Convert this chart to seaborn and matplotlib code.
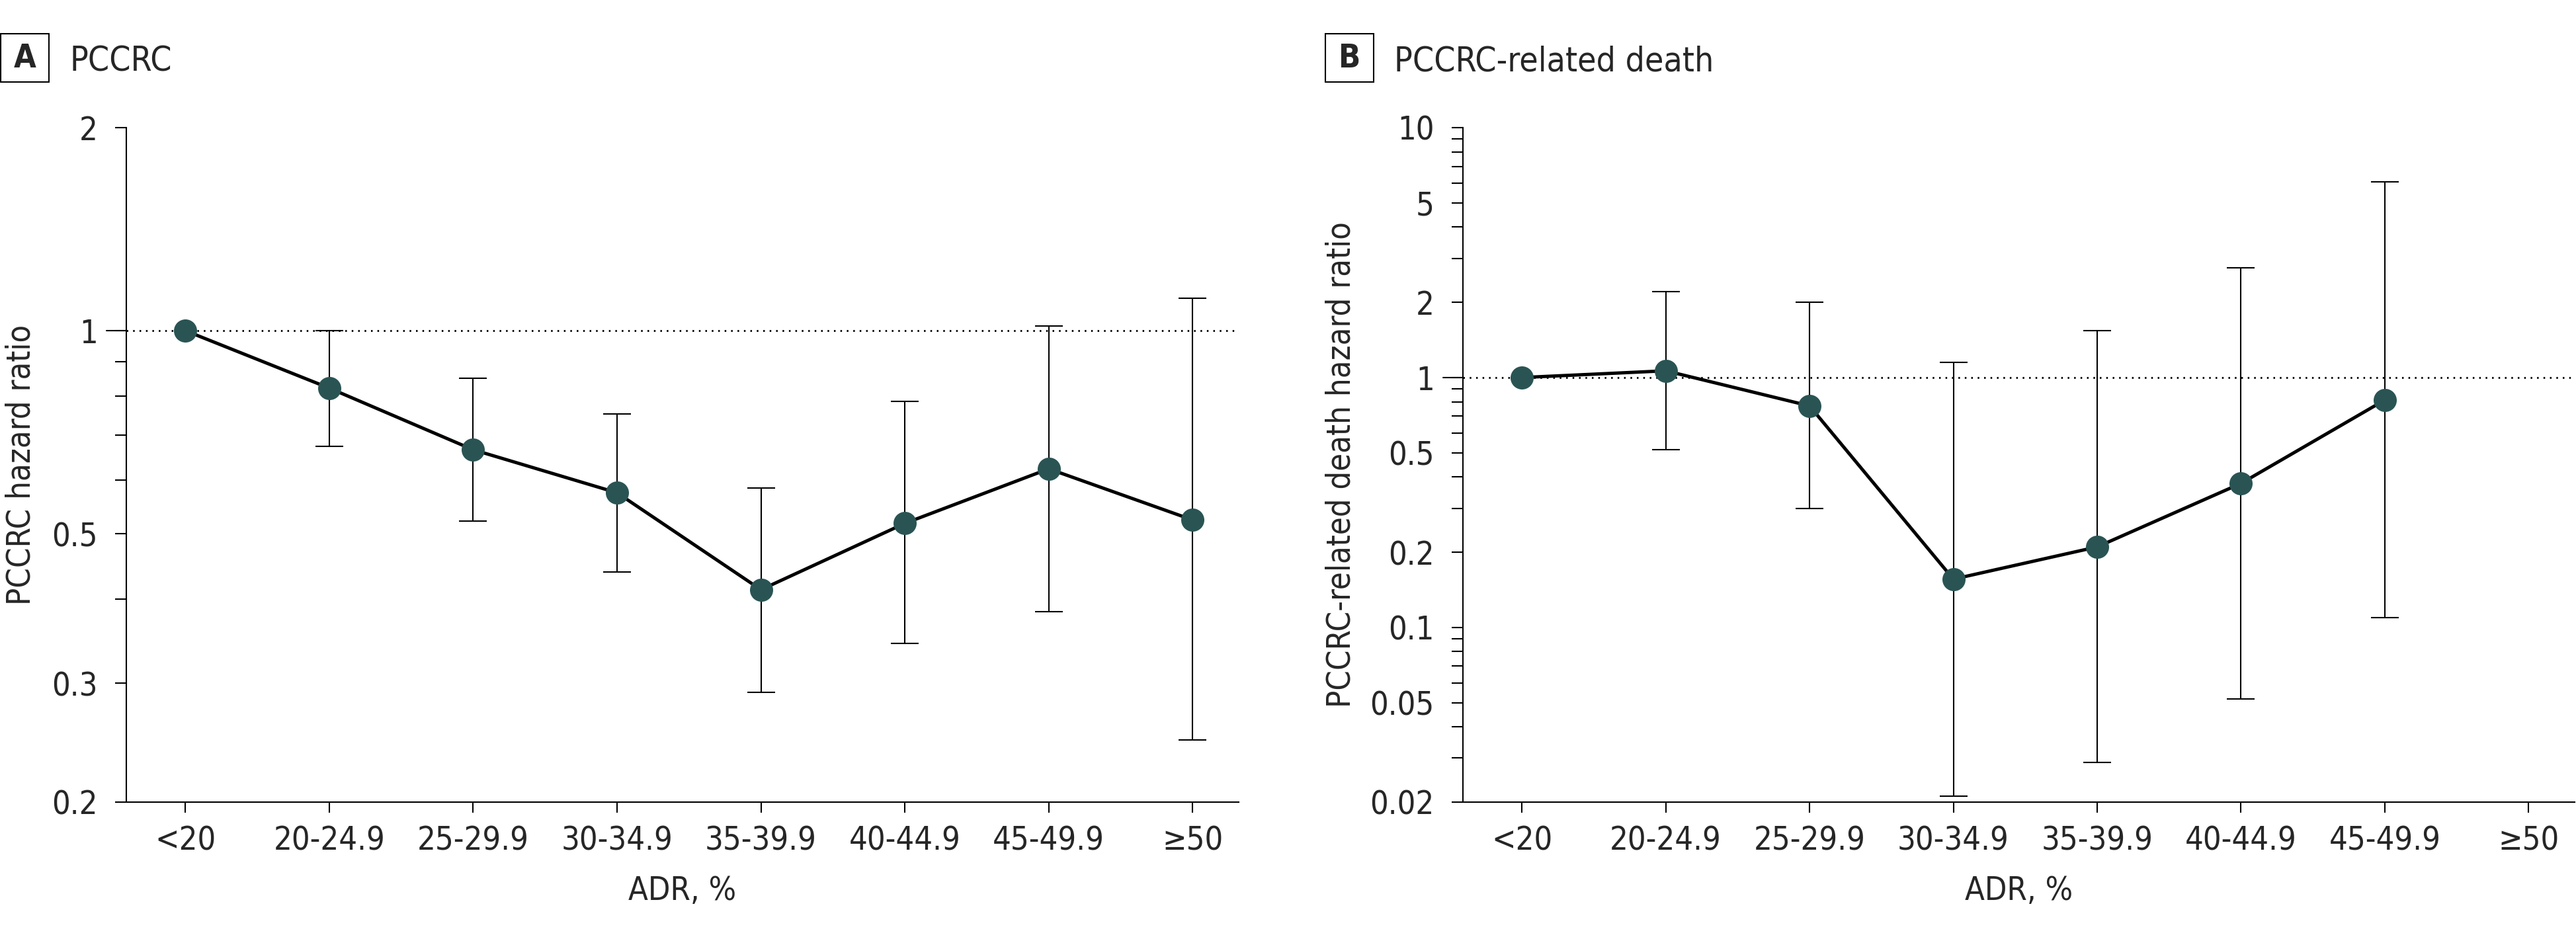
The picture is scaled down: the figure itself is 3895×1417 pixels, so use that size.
import numpy as np
import matplotlib
matplotlib.use("Agg")
import matplotlib.pyplot as plt
from matplotlib import font_manager
from matplotlib.patches import Rectangle
from matplotlib.ticker import FixedLocator, FixedFormatter, LogLocator, NullFormatter
import seaborn as sns

# ADR groups (x axis)
categories = ["<20", "20-24.9", "25-29.9", "30-34.9", "35-39.9", "40-44.9", "45-49.9", "≥50"]

# Panel A: PCCRC hazard ratio with 95% CI
hr_a = [1.0, 0.822, 0.666, 0.575, 0.413, 0.518, 0.624, 0.524]
lo_a = [np.nan, 0.673, 0.522, 0.439, 0.291, 0.344, 0.383, 0.247]
hi_a = [np.nan, 1.00, 0.850, 0.753, 0.585, 0.786, 1.017, 1.118]

# Panel B: PCCRC-related death hazard ratio with 95% CI
hr_b = [1.0, 1.064, 0.77, 0.156, 0.210, 0.377, 0.813, np.nan]
lo_b = [np.nan, 0.516, 0.30, 0.0211, 0.0289, 0.0518, 0.1096, np.nan]
hi_b = [np.nan, 2.21, 2.0, 1.153, 1.544, 2.75, 6.06, np.nan]

yticks_a = [0.2, 0.3, 0.5, 1, 2]
yticks_b = [0.02, 0.05, 0.1, 0.2, 0.5, 1, 2, 5, 10]

TEAL = "#2a5454"

sns.set_theme(style="ticks")
# condensed face if one is installed, otherwise plain Liberation Sans
fonts = font_manager.fontManager.ttflist
names = {f.name for f in fonts}
text_stretch = "normal"
if "Liberation Sans Narrow" in names:
    text_font = "Liberation Sans Narrow"
elif any(f.name == "DejaVu Sans" and "ondensed" in str(f.stretch) for f in fonts):
    text_font, text_stretch = "DejaVu Sans", "condensed"
else:
    text_font = "Liberation Sans"
plt.rcParams["font.family"] = [text_font, "DejaVu Sans"]
plt.rcParams["font.stretch"] = text_stretch
plt.rcParams["axes.linewidth"] = 0.75
plt.rcParams["axes.edgecolor"] = "black"

fig = plt.figure(figsize=(19.475, 7.085), dpi=200)
W, H = 3895, 1417


def panel(left_px, right_px, hr, lo, hi, yticks, ylim, ylabel, ylabelpad):
    ax = fig.add_axes([left_px / W, 1 - 1213 / H, (right_px - left_px) / W, (1213 - 193) / H])
    x = np.arange(len(categories))
    hr = np.array(hr)
    lo = np.array(lo)
    hi = np.array(hi)

    ax.set_yscale("log")
    ax.axhline(1, color="black", lw=1.0, linestyle=(0, (0.9, 2.6)), zorder=1)
    ax.errorbar(x, hr, yerr=[hr - lo, hi - hr], fmt="none", ecolor="black",
                elinewidth=0.75, capsize=7.4, capthick=0.75, zorder=2)
    sns.lineplot(x=x, y=hr, ax=ax, color="black", linewidth=1.8, marker="o",
                 markersize=12.6, markerfacecolor=TEAL, markeredgewidth=0,
                 errorbar=None, zorder=3)

    ax.set_xlim(-0.41, 7.32)
    ax.set_ylim(*ylim)
    ax.set_xticks(x)
    ax.set_xticklabels(categories)
    ax.yaxis.set_major_locator(FixedLocator(yticks))
    ax.yaxis.set_major_formatter(FixedFormatter(["%g" % v for v in yticks]))
    ax.yaxis.set_minor_locator(LogLocator(base=10, subs=np.arange(2, 10)))
    ax.yaxis.set_minor_formatter(NullFormatter())

    ax.tick_params(axis="y", which="both", length=6.1, width=0.75, pad=9.5,
                   labelsize=17.5, color="black")
    ax.tick_params(axis="x", length=5.8, width=0.75, pad=6.5, labelsize=17.5, color="black")

    # longer tick marking the reference line
    ax.plot([-0.0178, 0], [1, 1], transform=ax.get_yaxis_transform(), clip_on=False,
            color="black", lw=0.75)

    ax.set_xlabel("ADR, %", fontsize=17.5, labelpad=10)
    ax.set_ylabel(ylabel, fontsize=17.5, labelpad=ylabelpad)
    sns.despine(ax=ax)
    return ax


panel(191, 1873, hr_a, lo_a, hi_a, yticks_a, (0.2, 2), "PCCRC hazard ratio", 8)
panel(2212, 3893, hr_b, lo_b, hi_b, yticks_b, (0.02, 10), "PCCRC-related death hazard ratio", 7)


def panel_tag(x_px, letter, title):
    fig.add_artist(Rectangle((x_px / W, 1 - 124 / H), 73 / W, 73 / H, transform=fig.transFigure,
                             fill=False, edgecolor="black", lw=0.75))
    fig.text((x_px + 36.5) / W, 1 - 87.5 / H, letter, ha="center", va="center",
             fontsize=17.5, fontweight="bold")
    fig.text((x_px + 104) / W, 1 - 107 / H, title, ha="left", va="baseline", fontsize=18.5)


panel_tag(1, "A", "PCCRC")
panel_tag(2004, "B", "PCCRC-related death")

fig.savefig("out.png", dpi=200)
